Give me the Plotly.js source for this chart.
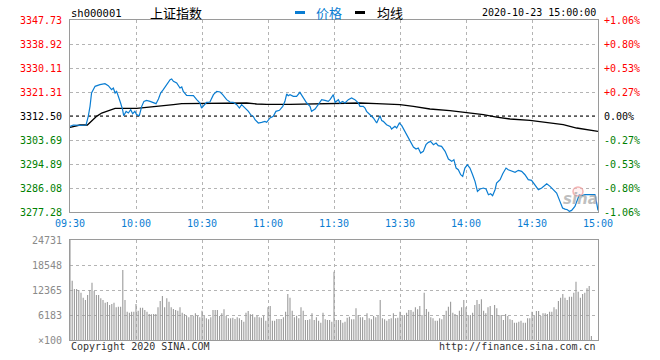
<!DOCTYPE html>
<html><head><meta charset="utf-8">
<script src="https://cdn.plot.ly/plotly-3.0.1.min.js"></script>
<style>html,body{margin:0;padding:0;background:#fff;}#chart{width:660px;height:360px;}</style>
</head><body><div id="chart"></div>
<script>
const symbol = 'sh000001';
const indexName = '上证指数';
const stamp = '2020-10-23 15:00:00';
const legendNames = ['价格', '均线'];
const copyrightText = 'Copyright 2020 SINA.COM';
const urlText = 'http://finance.sina.com.cn';
const timeTicks = [0, 30, 60, 90, 120, 150, 180, 210, 240];
const timeLabels = ['09:30', '10:00', '10:30', '11:00', '11:30', '13:30', '14:00', '14:30', '15:00'];
const prevClose = 3312.50;
const priceLevels = [3347.73, 3338.92, 3330.11, 3321.31, 3312.50, 3303.69, 3294.89, 3286.08, 3277.28];
const volumeTicks = [24731, 18548, 12365, 6183];
const volumeUnit = '×100';

const priceMinute = [0,1.5,4.5,7.3,8.3,9.1,9.8,11.4,13.6,15.9,17.4,18.9,19.7,20.5,21.2,22,23,23.9,24.4,25.5,26.5,27.6,28.5,29.5,30.3,31.5,32.6,33.6,34.8,36.4,37.9,39.1,40.2,41.2,42.4,43.9,45.5,46.2,47,48.5,50,50.8,51.5,53,54.5,56.1,57.6,59.1,59.8,60.9,62.1,63.6,65.2,66.7,68.2,69.4,71.2,72.7,74.2,75.8,77,78,79.5,81.1,82.1,83.3,84.1,85.6,87.1,88.6,89.4,90.9,92.4,93.6,95.2,96.7,97.7,98.5,99.2,100,101.5,103,104.5,106.1,107.6,109.1,109.8,111.4,112.9,114.4,115.9,117.4,118.2,119.7,120.5,122,122.7,123.9,125,126.5,128,129.5,131.1,131.8,133.3,134.1,134.8,136.4,137.9,139.4,140.2,140.9,141.7,142.4,143.9,145.5,146.2,147.7,148.5,149.7,150.8,151.8,153,154.5,156.1,157.3,158.3,159.4,160.6,161.8,162.9,163.9,165.2,166.4,167.4,168.9,170.5,172,173.5,174.5,175.5,176.5,177.6,178.5,179.5,180.6,181.8,183,184.1,185.2,186.4,187.9,189.1,190.2,191.2,192.1,193.2,193.9,195.5,196.7,198.2,199.2,200.8,202.3,203.8,205.3,206.8,208.3,209.8,211.4,212.9,214.4,215.9,216.7,218.2,219.7,221.2,222.7,223.9,225,226.1,227,228,229.5,230.6,231.5,232.6,234.1,235.6,237.1,238.6,239.4,240];
const priceValue = [3308.71,3309.20,3309.07,3309.20,3312.38,3316.05,3320.94,3323.39,3324.00,3324.37,3323.63,3322.17,3322.78,3320.94,3321.55,3319.96,3317.27,3314.83,3312.62,3314.21,3313.60,3314.83,3313.36,3314.21,3312.99,3312.62,3316.05,3317.88,3318.25,3317.88,3317.52,3317.03,3318.74,3320.94,3322.17,3324.00,3325.84,3326.08,3325.23,3324.61,3322.78,3323.15,3321.55,3320.08,3319.96,3319.96,3318.50,3317.27,3315.44,3316.66,3317.52,3317.64,3320.33,3321.55,3321.31,3320.33,3318.50,3317.64,3317.52,3316.66,3315.44,3316.66,3315.44,3314.21,3312.99,3312.38,3311.15,3309.93,3310.18,3310.54,3310.18,3311.77,3312.38,3314.21,3314.58,3316.05,3317.88,3320.58,3319.96,3320.33,3319.72,3319.72,3321.19,3319.11,3317.27,3316.05,3314.21,3315.07,3316.66,3318.50,3318.25,3317.88,3318.50,3320.33,3317.52,3318.50,3317.27,3317.88,3317.27,3318.50,3319.11,3318.50,3317.27,3316.05,3316.05,3315.44,3314.21,3312.99,3311.77,3309.93,3311.40,3312.62,3310.79,3310.54,3309.32,3308.71,3307.73,3308.71,3308.10,3309.93,3308.95,3307.48,3305.65,3303.20,3301.12,3300.39,3300.75,3298.92,3299.53,3301.98,3302.83,3303.20,3301.98,3302.59,3301.61,3301.37,3299.53,3296.72,3295.86,3296.47,3293.41,3292.80,3290.96,3290.35,3293.41,3294.64,3293.41,3290.96,3288.52,3284.85,3285.70,3286.07,3285.70,3283.62,3283.99,3283.26,3285.46,3287.91,3289.13,3291.33,3293.41,3292.80,3292.19,3291.82,3292.56,3292.19,3290.96,3289.13,3288.88,3287.29,3285.46,3286.07,3287.29,3287.66,3286.68,3285.46,3284.23,3281.18,3278.73,3278.36,3278.12,3277.50,3277.87,3279.34,3281.79,3283.62,3283.26,3283.62,3283.62,3283.62,3283.62,3280.56,3277.87];

const avgMinute = [0,4.5,7.9,9.8,12.1,14.4,16.7,18.9,20.5,25.8,30.3,34.8,40.9,47,50.8,59.1,66.7,74.2,80.3,84.8,89.4,100,106,118.2,131.8,139.4,150,156.1,163.6,172.7,180.3,187.9,193.9,200,209.1,215.2,224.2,230.3,234.8,240];
const avgValue = [3308.34,3309.20,3309.20,3310.54,3312.38,3313.60,3314.21,3314.82,3315.31,3315.31,3315.31,3315.68,3316.05,3316.66,3317.03,3317.03,3317.03,3317.27,3317.27,3316.91,3316.78,3316.78,3316.91,3317.03,3317.27,3317.03,3316.66,3316.05,3315.07,3314.46,3313.85,3312.99,3312.13,3311.40,3310.91,3310.30,3309.32,3308.10,3307.48,3306.87];

const volume = [24731,14674,12613,12613,12366,11706,10470,9893,11129,12366,
14180,12118,11129,11129,10305,9893,9233,9398,8656,8903,
9233,8079,8244,8244,17312,9893,7007,6760,7007,7007,
8903,7255,7997,7997,7420,7007,6430,6348,6430,6430,
8079,9645,10882,8079,10305,9480,8079,7667,7420,7255,
8079,6760,6430,5936,5606,5936,6018,6595,5936,5606,
7255,5936,5359,5111,5606,7420,7420,7420,5936,6595,
7584,5936,5359,5359,5524,5194,5606,5359,4946,4534,
6760,7172,6348,6348,5606,5936,5606,5524,5936,4781,
8079,8409,4781,4781,5194,5194,5194,5606,7007,11377,
10470,7255,5606,6018,5359,8079,7255,4946,4946,5111,
6595,4946,5606,4781,4287,6760,5111,4946,4946,4534,
16900,4946,4946,4946,4287,4534,5524,5771,5111,5111,
7832,6183,5606,5606,4946,6595,5359,5111,5936,5606,
5936,9893,5359,5111,4781,5194,5359,6595,5359,5524,
7007,5936,6183,6760,7420,7420,7007,8079,7584,8409,
6183,11706,7667,7007,5606,5359,4781,4781,5359,5111,
6183,7255,8244,9480,6760,6430,6183,7255,8079,9893,
8079,5936,6183,6760,8656,9893,8903,10058,7255,6595,
8079,8409,6183,8656,7832,6183,6183,4946,6430,5936,
5111,4946,4287,4287,4534,4781,4287,4287,5359,5359,
7007,5936,7172,7172,5936,6595,6595,6430,7007,7007,
8079,7584,9645,10470,11377,10470,9893,10717,10717,11706,
14427,11954,10470,11377,11706,12778,13355,989];
const volumeMinute = volume.map((v, i) => i);

// ---------- layout helpers (pixel -> paper) ----------
const W = 660, H = 360;
const px = x => x / W;
const py = y => 1 - y / H;
const mono = 'DejaVu Sans Mono, Liberation Mono, monospace';
const cjk = 'Noto Sans CJK SC, sans-serif';
const blue = '#0a7dd2';
const red = '#ff0000', green = '#008000';
const gridStyle = {showgrid: true, gridcolor: '#b4b4b4', griddash: 'dot', gridwidth: 1};

const pct = v => {
  const p = (v - prevClose) / prevClose * 100;
  const s = Math.abs(p).toFixed(2);
  if (Math.abs(p) < 0.005) return '0.00%';
  return (p > 0 ? '+' : '-') + s + '%';
};
const levelColor = v => Math.abs(v - prevClose) < 0.005 ? '#000' : (v > prevClose ? red : green);

const traces = [
  {type: 'scatter', mode: 'lines', x: avgMinute, y: avgValue, xaxis: 'x', yaxis: 'y',
   line: {color: '#000', width: 1.3}, hoverinfo: 'skip', name: legendNames[1]},
  {type: 'scatter', mode: 'lines', x: [0, 240], y: [prevClose, prevClose], xaxis: 'x', yaxis: 'y',
   line: {color: '#000', width: 1, dash: '3px,3px'}, hoverinfo: 'skip'},
  {type: 'scatter', mode: 'lines', x: priceMinute, y: priceValue, xaxis: 'x', yaxis: 'y',
   line: {color: blue, width: 1.2}, hoverinfo: 'skip', name: legendNames[0]},
  {type: 'bar', x: volumeMinute, y: volume, xaxis: 'x2', yaxis: 'y2', width: 0.5,
   marker: {color: '#9a9a9a', line: {width: 0}}, hoverinfo: 'skip'}
];

const annotations = [];
priceLevels.forEach(v => {
  annotations.push({xref: 'paper', yref: 'y', x: px(64), y: v, xanchor: 'right', yanchor: 'middle',
    text: v.toFixed(2), showarrow: false, font: {family: mono, size: 10, color: levelColor(v)}});
  annotations.push({xref: 'paper', yref: 'y', x: px(602), y: v, xanchor: 'left', yanchor: 'middle',
    text: pct(v), showarrow: false, font: {family: mono, size: 10, color: levelColor(v)}});
});
volumeTicks.forEach(v => {
  annotations.push({xref: 'paper', yref: 'y2', x: px(64), y: v, xanchor: 'right', yanchor: 'middle',
    text: String(v), showarrow: false, font: {family: mono, size: 10, color: '#8a8a8a'}});
});
annotations.push({xref: 'paper', yref: 'y2', x: px(64), y: 0, xanchor: 'right', yanchor: 'middle',
  text: volumeUnit, showarrow: false, font: {family: mono, size: 10, color: '#8a8a8a'}});
annotations.push({xref: 'paper', yref: 'paper', x: px(69), y: py(13), xanchor: 'left', yanchor: 'middle',
  text: symbol, showarrow: false, font: {family: mono, size: 10.5, color: '#000'}});
annotations.push({xref: 'paper', yref: 'paper', x: px(176.5), y: py(13), xanchor: 'center', yanchor: 'middle',
  text: indexName, showarrow: false, font: {family: cjk, size: 13, color: '#000'}});
annotations.push({xref: 'paper', yref: 'paper', x: px(314), y: py(13), xanchor: 'left', yanchor: 'middle',
  text: legendNames[0], showarrow: false, font: {family: cjk, size: 13, color: blue}});
annotations.push({xref: 'paper', yref: 'paper', x: px(375), y: py(13), xanchor: 'left', yanchor: 'middle',
  text: legendNames[1], showarrow: false, font: {family: cjk, size: 13, color: '#000'}});
annotations.push({xref: 'paper', yref: 'paper', x: px(598), y: py(13), xanchor: 'right', yanchor: 'middle',
  text: stamp, showarrow: false, font: {family: mono, size: 10, color: '#000'}});
annotations.push({xref: 'paper', yref: 'paper', x: px(69), y: py(346), xanchor: 'left', yanchor: 'middle',
  text: copyrightText, showarrow: false, font: {family: mono, size: 10, color: '#333'}});
annotations.push({xref: 'paper', yref: 'paper', x: px(598), y: py(346), xanchor: 'right', yanchor: 'middle',
  text: urlText, showarrow: false, font: {family: mono, size: 10, color: '#333'}});
annotations.push({xref: 'paper', yref: 'paper', x: px(580), y: py(199), xanchor: 'center', yanchor: 'middle',
  text: '<b><i>sina</i></b>', showarrow: false, font: {family: 'DejaVu Sans, sans-serif', size: 15, color: 'rgba(170,170,170,0.75)'}});

const shapes = [
  {type: 'line', xref: 'paper', yref: 'paper', x0: px(295), x1: px(305), y0: py(12.5), y1: py(12.5),
   line: {color: blue, width: 3}},
  {type: 'line', xref: 'paper', yref: 'paper', x0: px(355), x1: px(365), y0: py(12.5), y1: py(12.5),
   line: {color: '#000', width: 3}},
  {type: 'circle', xref: 'paper', yref: 'paper', x0: px(573), x1: px(583), y0: py(196), y1: py(187),
   line: {color: 'rgba(240,150,150,0.7)', width: 1.5}, fillcolor: 'rgba(255,220,220,0.4)'}
];

const axisLine = {showline: true, mirror: true, linecolor: '#9a9a9a', linewidth: 1, zeroline: false, ticks: ''};

const layout = {
  width: W, height: H, margin: {l: 0, r: 0, t: 0, b: 0},
  paper_bgcolor: '#fff', plot_bgcolor: '#fff', showlegend: false,
  xaxis: Object.assign({domain: [px(70), px(598)], range: [0, 240], anchor: 'y',
    tickmode: 'array', tickvals: timeTicks, ticktext: timeLabels,
    tickfont: {family: mono, size: 10, color: blue}, ticklabelstandoff: 2}, gridStyle, axisLine),
  yaxis: Object.assign({domain: [py(212), py(20)], range: [priceLevels[8], priceLevels[0]], anchor: 'x',
    tickmode: 'array', tickvals: priceLevels, showticklabels: false}, gridStyle, axisLine),
  xaxis2: Object.assign({domain: [px(70), px(598)], range: [0, 240], anchor: 'y2',
    tickmode: 'array', tickvals: timeTicks, showticklabels: false}, gridStyle, axisLine),
  yaxis2: Object.assign({domain: [py(340), py(240)], range: [0, volumeTicks[0]], anchor: 'x2',
    tickmode: 'array', tickvals: volumeTicks, showticklabels: false}, gridStyle, axisLine),
  annotations: annotations,
  shapes: shapes
};

Plotly.newPlot('chart', traces, layout, {staticPlot: true, displayModeBar: false});
</script></body></html>
